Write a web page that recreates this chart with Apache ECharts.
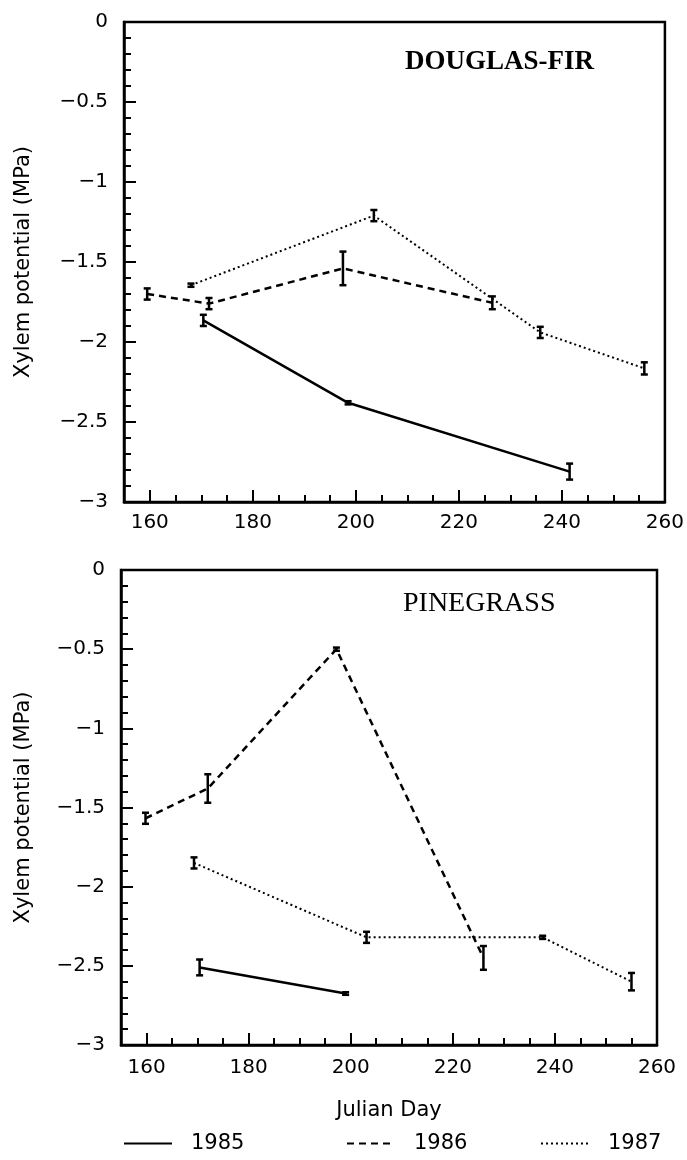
<!DOCTYPE html>
<html>
<head>
<meta charset="utf-8">
<title>Xylem potential</title>
<script src="https://cdn.jsdelivr.net/npm/echarts@6/dist/echarts.min.js"></script>
<style>
html, body { margin: 0; padding: 0; background: #fff; }
#main { width: 687px; height: 1160px; }
</style>
</head>
<body>
<div id="main"></div>
<script>
// values: Julian day, xylem potential (MPa), half error bar
var fir85Day = [170.4, 198.5, 241.5];
var fir85Val = [-1.865, -2.38, -2.81];
var fir85Err = [0.035, 0.01, 0.05];

var fir86Day = [159.5, 171.5, 197.5, 226.5];
var fir86Val = [-1.70, -1.76, -1.54, -1.755];
var fir86Err = [0.035, 0.035, 0.105, 0.04];

var fir87Day = [168, 203.5, 235.8, 256];
var fir87Val = [-1.645, -1.21, -1.94, -2.165];
var fir87Err = [0.01, 0.035, 0.035, 0.038];

var pine85Day = [170.4, 199];
var pine85Val = [-2.51, -2.675];
var pine85Err = [0.05, 0.008];

var pine86Day = [159.8, 172, 197.2, 226];
var pine86Val = [-1.568, -1.38, -0.5, -2.45];
var pine86Err = [0.035, 0.09, 0.01, 0.075];

var pine87Day = [169.3, 203.1, 237.6, 255];
var pine87Val = [-1.85, -2.32, -2.32, -2.6];
var pine87Err = [0.035, 0.035, 0.01, 0.055];

var xTicks = [160, 180, 200, 220, 240, 260];

var FONT = 'DejaVu Sans';

function pairs(days, vals) {
	return days.map(function(d, i) { return [d, vals[i]]; });
}

function bars(days, vals, errs) {
	return days.map(function(d, i) { return [d, vals[i] - errs[i], vals[i] + errs[i]]; });
}

function errorBar(params, api) {
	var hi = api.coord([api.value(0), api.value(2)]);
	var lo = api.coord([api.value(0), api.value(1)]);
	var w = 3.5;
	var st = {stroke: '#000', lineWidth: 2.5};
	return {type: 'group', children: [
		{type: 'line', shape: {x1: hi[0], y1: hi[1], x2: lo[0], y2: lo[1]}, style: st},
		{type: 'line', shape: {x1: hi[0] - w, y1: hi[1], x2: hi[0] + w, y2: hi[1]}, style: st},
		{type: 'line', shape: {x1: lo[0] - w, y1: lo[1], x2: lo[0] + w, y2: lo[1]}, style: st}
	]};
}

var dashOf = {'1985': 'solid', '1986': [7, 5], '1987': [2, 3]};
var widthOf = {'1985': 2.5, '1986': 2.5, '1987': 2};

function lineSeries(name, idx, days, vals) {
	return {
		name: name, type: 'line', xAxisIndex: idx, yAxisIndex: idx,
		data: pairs(days, vals), symbol: 'none', silent: true,
		lineStyle: {color: '#000', width: widthOf[name], type: dashOf[name]},
		itemStyle: {color: '#000'}
	};
}

function barSeries(idx, days, vals, errs) {
	return {
		type: 'custom', xAxisIndex: idx, yAxisIndex: idx, silent: true,
		renderItem: errorBar, encode: {x: 0, y: [1, 2]},
		data: bars(days, vals, errs), z: 3
	};
}

function minus(v) {
	return String(v).replace('-', '\u2212');
}

function xAxes(grid, margin, withName) {
	var minor = {
		gridIndex: grid, type: 'value', position: 'bottom', min: 155, max: 260, interval: 5,
		axisLine: {show: true, onZero: false, lineStyle: {color: '#000', width: 2.5}},
		axisTick: {show: true, inside: true, length: 7, lineStyle: {color: '#000', width: 2}},
		axisLabel: {show: false}, splitLine: {show: false}
	};
	var major = {
		gridIndex: grid, type: 'value', position: 'bottom', min: 155, max: 260,
		axisLine: {show: false, onZero: false},
		axisTick: {show: true, inside: true, length: 12, customValues: xTicks, lineStyle: {color: '#000', width: 2}},
		axisLabel: {show: true, customValues: xTicks, margin: margin, color: '#000', fontFamily: FONT, fontSize: 20},
		splitLine: {show: false}
	};
	if (withName) {
		major.name = 'Julian Day';
		major.nameLocation = 'middle';
		major.nameGap = 55;
		major.nameTextStyle = {color: '#000', fontFamily: FONT, fontSize: 21};
	}
	return [minor, major];
}

function yAxes(grid, nameGap) {
	var minor = {
		gridIndex: grid, type: 'value', position: 'left', min: -3, max: 0, interval: 0.1,
		axisLine: {show: true, onZero: false, lineStyle: {color: '#000', width: 2.5}},
		axisTick: {show: true, inside: true, length: 7, lineStyle: {color: '#000', width: 2}},
		axisLabel: {show: false}, splitLine: {show: false}
	};
	var major = {
		gridIndex: grid, type: 'value', position: 'left', min: -3, max: 0, interval: 0.5,
		axisLine: {show: false, onZero: false},
		axisTick: {show: true, inside: true, length: 12, lineStyle: {color: '#000', width: 2}},
		axisLabel: {show: true, margin: 16, color: '#000', fontFamily: FONT, fontSize: 20, formatter: minus},
		splitLine: {show: false},
		name: 'Xylem potential (MPa)', nameLocation: 'middle', nameGap: nameGap,
		nameTextStyle: {color: '#000', fontFamily: FONT, fontSize: 21}
	};
	return [minor, major];
}

function legendAt(left, name) {
	return {
		data: [name], left: left, top: 1133, padding: 0,
		itemWidth: 48, itemHeight: 14, selectedMode: false,
		itemStyle: {opacity: 0},
		textStyle: {color: '#000', fontFamily: FONT, fontSize: 21, padding: [0, 0, 0, 14]}
	};
}

function display() {
	var myChart = echarts.init(document.getElementById('main'), null, {renderer: 'canvas'});

	var option = {
		backgroundColor: '#fff',
		animation: false,
		grid: [
			{left: 124, right: 22, top: 22, height: 480, show: true, borderColor: '#000', borderWidth: 2.5, backgroundColor: 'transparent'},
			{left: 121, right: 30, top: 570, height: 475, show: true, borderColor: '#000', borderWidth: 2.5, backgroundColor: 'transparent'}
		],
		xAxis: xAxes(0, 11, false).concat(xAxes(1, 13, true)),
		yAxis: yAxes(0, 90).concat(yAxes(1, 87)),
		legend: [legendAt(123, '1985'), legendAt(346, '1986'), legendAt(540, '1987')],
		graphic: [
			{type: 'text', left: 405, top: 49, style: {text: 'DOUGLAS-FIR', fill: '#000', font: 'bold 27px "Liberation Serif", serif'}},
			{type: 'text', left: 403, top: 590, style: {text: 'PINEGRASS', fill: '#000', font: '28px "Liberation Serif", serif'}}
		],
		series: [
			lineSeries('1985', 0, fir85Day, fir85Val),
			lineSeries('1986', 0, fir86Day, fir86Val),
			lineSeries('1987', 0, fir87Day, fir87Val),
			barSeries(0, fir85Day, fir85Val, fir85Err),
			barSeries(0, fir86Day, fir86Val, fir86Err),
			barSeries(0, fir87Day, fir87Val, fir87Err),
			lineSeries('1985', 2, pine85Day, pine85Val),
			lineSeries('1986', 2, pine86Day, pine86Val),
			lineSeries('1987', 2, pine87Day, pine87Val),
			barSeries(2, pine85Day, pine85Val, pine85Err),
			barSeries(2, pine86Day, pine86Val, pine86Err),
			barSeries(2, pine87Day, pine87Val, pine87Err)
		]
	};

	myChart.setOption(option);
}

display();
</script>
</body>
</html>
